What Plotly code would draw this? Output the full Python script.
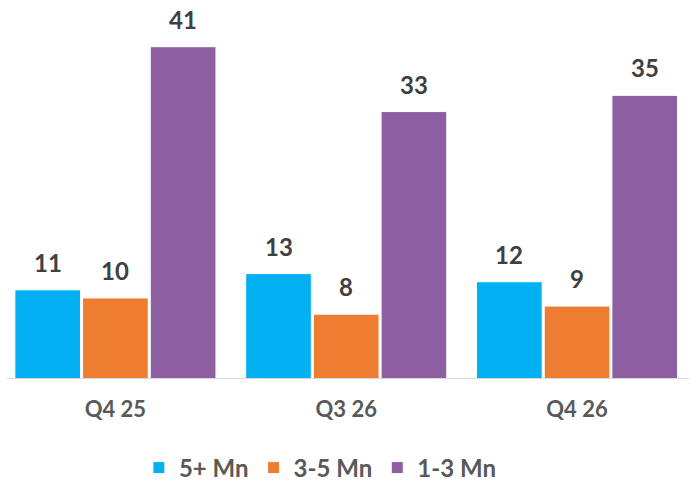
import plotly.graph_objects as go

# Quarterly counts by size band
quarters = ["Q4 25", "Q3 26", "Q4 26"]
series_names = ["5+ Mn", "3-5 Mn", "1-3 Mn"]
values_5plus = [11, 13, 12]
values_3to5 = [10, 8, 9]
values_1to3 = [41, 33, 35]
colors = ["#00B0F0", "#ED7D31", "#8E5EA2"]

series_values = [values_5plus, values_3to5, values_1to3]

BARGAP = 0.12
FONT = "Lato"
LABEL_COLOR = "#404040"
AXIS_TEXT = "#595959"

fig = go.Figure()
for name, vals, col in zip(series_names, series_values, colors):
    fig.add_trace(go.Bar(
        x=quarters, y=vals, name=f"<b>{name}</b>",
        marker=dict(color=col, line=dict(color="white", width=1)),
    ))

# Value labels above each bar, placed at the bar's slot within its group
n = len(series_names)
slot = (1 - BARGAP) / n
for i, vals in enumerate(series_values):
    offset = (i - (n - 1) / 2) * slot
    for q, v in enumerate(vals):
        fig.add_annotation(
            x=q + offset, y=v, text=f"<b>{v}</b>", showarrow=False,
            yanchor="bottom", yshift=11, xref="x", yref="y",
            font=dict(family=FONT, size=24, color=LABEL_COLOR),
        )

# Baseline
fig.add_shape(type="line", xref="paper", yref="y", x0=7 / 689, x1=1, y0=0, y1=0,
              line=dict(color="#D9D9D9", width=2))

fig.update_layout(
    width=689, height=481,
    margin=dict(l=0, r=0, t=7, b=102, autoexpand=False),
    plot_bgcolor="white", paper_bgcolor="white",
    barmode="group", bargap=BARGAP, bargroupgap=0.03,
    showlegend=True,
    legend=dict(orientation="h", x=0.465, xanchor="center",
                yref="container", y=(481 - 468) / 481, yanchor="middle",
                font=dict(family=FONT, size=24, color=AXIS_TEXT),
                itemwidth=30, traceorder="normal"),
    xaxis=dict(type="category", range=[-0.5, 2.485], showline=False, showgrid=False,
               automargin=False, ticks="", ticklabelstandoff=15,
               tickfont=dict(family=FONT, size=22, color=AXIS_TEXT),
               tickvals=quarters, ticktext=[f"<b>{q}</b>" for q in quarters]),
    yaxis=dict(range=[0, 45.9], visible=False, showgrid=False, zeroline=False,
               automargin=False),
)

fig.write_html("out.html")
